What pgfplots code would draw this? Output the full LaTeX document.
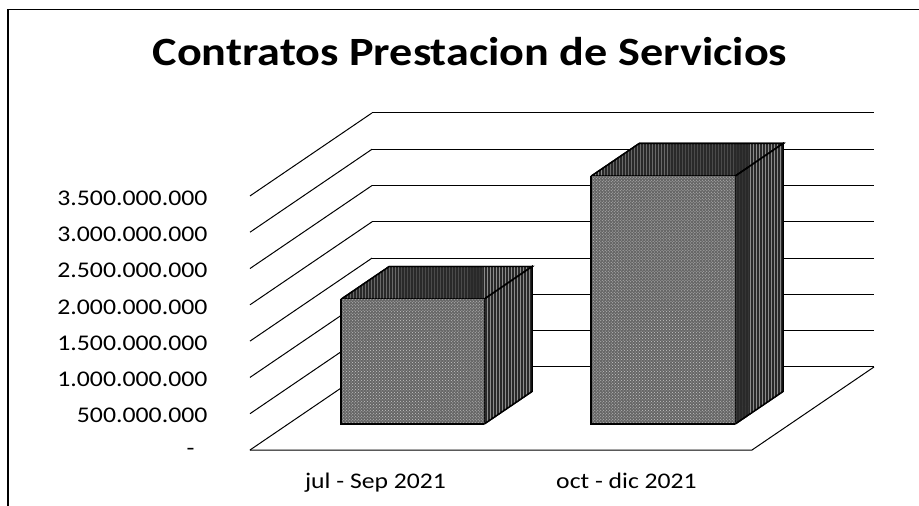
\documentclass[border=0pt]{standalone}
\usepackage{fontspec}
\setmainfont[FakeStretch=1.15]{Carlito}
\usepackage{pgfplots}
\pgfplotsset{compat=1.18}
\usetikzlibrary{patterns}

\definecolor{frontgray}{gray}{0.40}
\definecolor{darkgray}{gray}{0.16}

\pgfplotsset{
    front face/.style={draw=none, fill=frontgray, mark=none,
        postaction={pattern=crosshatch dots, pattern color=white!78!black}},
    dark face/.style={draw=black, line width=1.4bp, fill=darkgray, mark=none,
        postaction={pattern=vertical lines, pattern color=white!55!black}},
    edge/.style={draw=black, line width=1.6bp, mark=none},
}

\begin{document}
\begin{tikzpicture}
    % oblique axes: x in pixels, y depth 0..1, z in millions
    \begin{axis}[
        x={(1bp,0bp)}, y={(122bp,83bp)}, z={(0bp,0.0726bp)},
        xmin=250, xmax=752, ymin=0, ymax=1, zmin=0, zmax=3500,
        clip=false,
        axis line style={draw=none},
        tick style={draw=none},
        xtick={375.5,626.5},
        xticklabels={jul - Sep 2021, oct - dic 2021},
        ytick=\empty,
        ztick={0,500,...,3500},
        zticklabels={-\rule{13bp}{0pt},500.000.000,1.000.000.000,1.500.000.000,2.000.000.000,2.500.000.000,3.000.000.000,3.500.000.000},
        zmajorgrids,
        grid style={draw=black, line width=1bp},
        x tick label style={font=\fontsize{22.4}{24}\selectfont, anchor=base, yshift=-27bp-\baselineskip},
        z tick label style={font=\fontsize{22.5}{24}\selectfont, anchor=east, xshift=-39bp, yshift=-2bp},
    ]
        % floor
        \addplot3[draw=black, line width=1bp, mark=none] coordinates {(250,0,0) (752,0,0) (752,1,0)};

        % jul - Sep 2021
        \addplot3[dark face] coordinates {(303,0.313,1720) (446,0.313,1720) (446,0.707,1720) (303,0.707,1720) (303,0.313,1720)};
        \addplot3[dark face] coordinates {(446,0.313,0) (446,0.707,0) (446,0.707,1720) (446,0.313,1720) (446,0.313,0)};
        \addplot3[front face] coordinates {(303,0.313,0) (446,0.313,0) (446,0.313,1720) (303,0.313,1720) (303,0.313,0)};
        \addplot3[edge] coordinates {(303,0.313,1720) (303,0.313,0) (446,0.313,0)};

        % oct - dic 2021
        \addplot3[dark face] coordinates {(553,0.313,3415) (697,0.313,3415) (697,0.707,3415) (553,0.707,3415) (553,0.313,3415)};
        \addplot3[dark face] coordinates {(697,0.313,0) (697,0.707,0) (697,0.707,3415) (697,0.313,3415) (697,0.313,0)};
        \addplot3[front face] coordinates {(553,0.313,0) (697,0.313,0) (697,0.313,3415) (553,0.313,3415) (553,0.313,0)};
        \addplot3[edge] coordinates {(553,0.313,3415) (553,0.313,0) (697,0.313,0)};

        \coordinate (o) at (axis cs:250,0,0);
    \end{axis}

    % page = 919x506, o sits at pixel (250,450)
    \pgfresetboundingbox
    \path[use as bounding box] ([shift={(-250bp,-56bp)}]o) rectangle ([shift={(669bp,450bp)}]o);
    \draw[line width=1.5bp] ([shift={(-242bp,-56bp)}]o) -- ([shift={(-242bp,440.5bp)}]o) -- ([shift={(669bp,440.5bp)}]o);
    \node[anchor=base, inner sep=0pt, font=\fontsize{40.3}{44}\selectfont\bfseries] at ([shift={(220bp,384bp)}]o) {Contratos Prestacion de Servicios};
\end{tikzpicture}
\end{document}
